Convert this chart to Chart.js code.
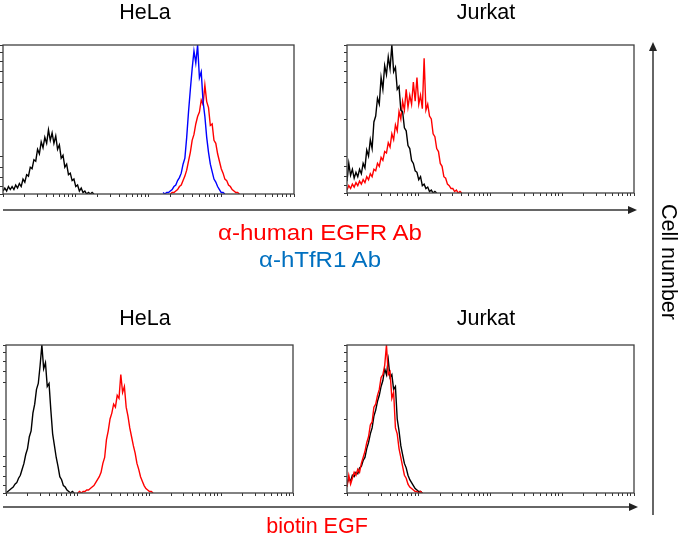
<!DOCTYPE html>
<html>
<head>
<meta charset="utf-8">
<script src="https://cdn.jsdelivr.net/npm/chart.js@4/dist/chart.umd.min.js"></script>
<style>
  body { margin:0; background:#fff; width:683px; height:536px; overflow:hidden; position:relative; font-family:"Liberation Sans", Arial, sans-serif; }
  canvas { position:absolute; }
  svg { position:absolute; left:0; top:0; }
</style>
</head>
<body>
<canvas id="tl"></canvas>
<canvas id="tr"></canvas>
<canvas id="bl"></canvas>
<canvas id="br"></canvas>
<svg width="683" height="536">
  <g font-family="Liberation Sans, Arial, sans-serif" font-size="21.5" text-anchor="middle">
    <text x="145" y="19" fill="#000">HeLa</text>
    <text x="486" y="19" fill="#000">Jurkat</text>
    <text x="145" y="325" fill="#000">HeLa</text>
    <text x="486" y="325" fill="#000">Jurkat</text>
    <text x="320" y="240" fill="#ff0000" textLength="204" lengthAdjust="spacingAndGlyphs">α-human EGFR Ab</text>
    <text x="320" y="267" fill="#0070c0" textLength="122" lengthAdjust="spacingAndGlyphs">α-hTfR1 Ab</text>
    <text x="317" y="533" fill="#ff0000">biotin EGF</text>
    <text transform="translate(662,262) rotate(90)" x="0" y="0" fill="#000">Cell number</text>
  </g>
  <g stroke="#333" stroke-width="1.5" fill="#222">
    <line x1="3" y1="210" x2="630" y2="210"/>
    <path d="M637,210 L628,206 L628,214 Z" stroke="none"/>
    <line x1="3" y1="507" x2="631" y2="507"/>
    <path d="M638,507 L629,503 L629,511 Z" stroke="none"/>
    <line x1="653" y1="515" x2="653" y2="50"/>
    <path d="M653,42 L649,51 L657,51 Z" stroke="none"/>
  </g>
</svg>
<script>
// x = log10 fluorescence (4 decades), sampled every STEP; y = cell count (% of panel max)
var STEP = 0.025;

// HeLa, anti-EGFR / anti-hTfR1 panel
var helaIsoStart = 0;
var helaIso = [2,4,2,5,3,5,3,6,4,7,5,10,8,13,12,18,17,23,22,30,27,35,31,38,34,43,36,41,34,39,30,33,24,26,18,20,13,14,9,10,5,6,2,4,1,2,0,1,0,1,0];
var helaTfrStart = 2.2;
var helaTfr = [1,0,1,1,2,3,5,6,9,11,14,20,24,38,55,70,84,96,88,100,78,82,62,52,38,28,20,15,10,8,5,3,1,1,0];
var helaEgfrStart = 2.3;
var helaEgfr = [0,1,1,2,3,5,6,9,12,16,22,28,36,40,47,52,55,63,60,73,62,58,46,47,36,34,27,22,17,14,10,9,6,5,3,2,1,1,0];

// Jurkat, anti-EGFR panel
var jurkatIsoStart = 0;
var jurkatIso = [8,20,12,16,10,14,11,16,13,20,17,29,25,36,30,48,52,64,60,78,70,86,80,92,84,100,82,85,70,72,56,55,44,42,32,30,22,20,15,14,9,11,5,6,3,4,1,2,0,1,0];
var jurkatEgfrStart = 0;
var jurkatEgfr = [2,5,3,6,4,7,5,8,6,9,7,11,9,13,11,16,15,20,18,24,22,28,27,34,31,40,36,46,42,55,50,62,56,70,58,66,60,75,62,78,60,66,57,91,56,60,52,50,40,38,30,28,20,18,11,10,6,5,3,3,1,2,0,1,0];

// HeLa, biotin EGF panel
var helaCtlStart = 0;
var helaCtl = [0,1,2,3,4,6,7,10,12,16,20,26,30,38,42,54,60,70,74,86,100,84,88,72,74,56,40,32,24,18,11,9,5,4,2,1,0,1,0];
var helaEgfStart = 1.0;
var helaEgf = [0,1,0,1,1,2,2,3,4,5,7,9,11,14,20,24,36,42,50,54,60,58,66,64,80,68,72,58,52,44,38,32,27,20,16,11,8,5,3,2,1,1,0];

// Jurkat, biotin EGF panel
var jurkatCtlStart = 0;
var jurkatCtl = [6,10,8,12,11,14,13,17,18,22,24,30,34,40,44,52,56,62,66,72,76,84,80,90,78,80,70,72,50,42,32,26,20,17,12,9,7,5,3,2,1,1,0];
var jurkatEgfStart = 0;
var jurkatEgf = [4,12,6,10,14,12,16,14,20,24,28,34,38,46,48,58,60,66,70,78,80,86,100,80,82,64,68,44,40,30,24,18,12,10,6,4,3,2,1,1,0,1,0];

var xTicks = [];
for (var d = 0; d < 4; d++) {
  for (var k = 1; k <= 9; k++) xTicks.push(d + Math.log10(k));
}
xTicks.push(4);
var yTicks = [0, 5, 11, 18, 25, 50, 75, 82, 89, 95, 100];

function pts(start, counts) {
  return counts.map(function (c, i) { return { x: start + i * STEP, y: c }; });
}

var framePlugin = {
  id: 'frame',
  afterDraw: function (chart) {
    var a = chart.chartArea, ctx = chart.ctx;
    ctx.save();
    ctx.strokeStyle = '#404040';
    ctx.lineWidth = 1.3;
    ctx.strokeRect(a.left, a.top, a.right - a.left, a.bottom - a.top);
    ctx.restore();
  }
};

function panel(id, box, sets) {
  var cv = document.getElementById(id);
  cv.width = box.r - box.l + 8;
  cv.height = box.b - box.t + 8;
  cv.style.left = (box.l - 6) + 'px';
  cv.style.top = (box.t - 2) + 'px';
  return new Chart(cv, {
    type: 'line',
    data: {
      datasets: sets.map(function (s) {
        return { data: pts(s.start, s.counts), borderColor: s.color, borderWidth: 1.4, pointRadius: 0, tension: 0, fill: false };
      })
    },
    options: {
      responsive: false,
      animation: false,
      layout: { padding: 2 },
      plugins: { legend: { display: false }, tooltip: { enabled: false } },
      scales: {
        x: {
          type: 'linear', min: 0, max: 4,
          afterBuildTicks: function (s) { s.ticks = xTicks.map(function (v) { return { value: v }; }); },
          afterFit: function (s) { s.height = 4; },
          ticks: { display: false },
          grid: { drawOnChartArea: false, tickLength: 3, color: '#333' },
          border: { display: false }
        },
        y: {
          min: 0, max: 100,
          afterBuildTicks: function (s) { s.ticks = yTicks.map(function (v) { return { value: v }; }); },
          afterFit: function (s) { s.width = 4; },
          ticks: { display: false },
          grid: { drawOnChartArea: false, tickLength: 3, color: '#333' },
          border: { display: false }
        }
      }
    },
    plugins: [framePlugin]
  });
}

panel('tl', { l: 3, t: 45, r: 294, b: 194 }, [
  { start: helaTfrStart, counts: helaTfr, color: '#0000ff' },
  { start: helaEgfrStart, counts: helaEgfr, color: '#ff0000' },
  { start: helaIsoStart, counts: helaIso, color: '#000000' }
]);
panel('tr', { l: 347, t: 45, r: 634, b: 193 }, [
  { start: jurkatIsoStart, counts: jurkatIso, color: '#000000' },
  { start: jurkatEgfrStart, counts: jurkatEgfr, color: '#ff0000' }
]);
panel('bl', { l: 6, t: 345, r: 293, b: 493 }, [
  { start: helaCtlStart, counts: helaCtl, color: '#000000' },
  { start: helaEgfStart, counts: helaEgf, color: '#ff0000' }
]);
panel('br', { l: 347, t: 345, r: 634, b: 493 }, [
  { start: jurkatEgfStart, counts: jurkatEgf, color: '#ff0000' },
  { start: jurkatCtlStart, counts: jurkatCtl, color: '#000000' }
]);
</script>
</body>
</html>
